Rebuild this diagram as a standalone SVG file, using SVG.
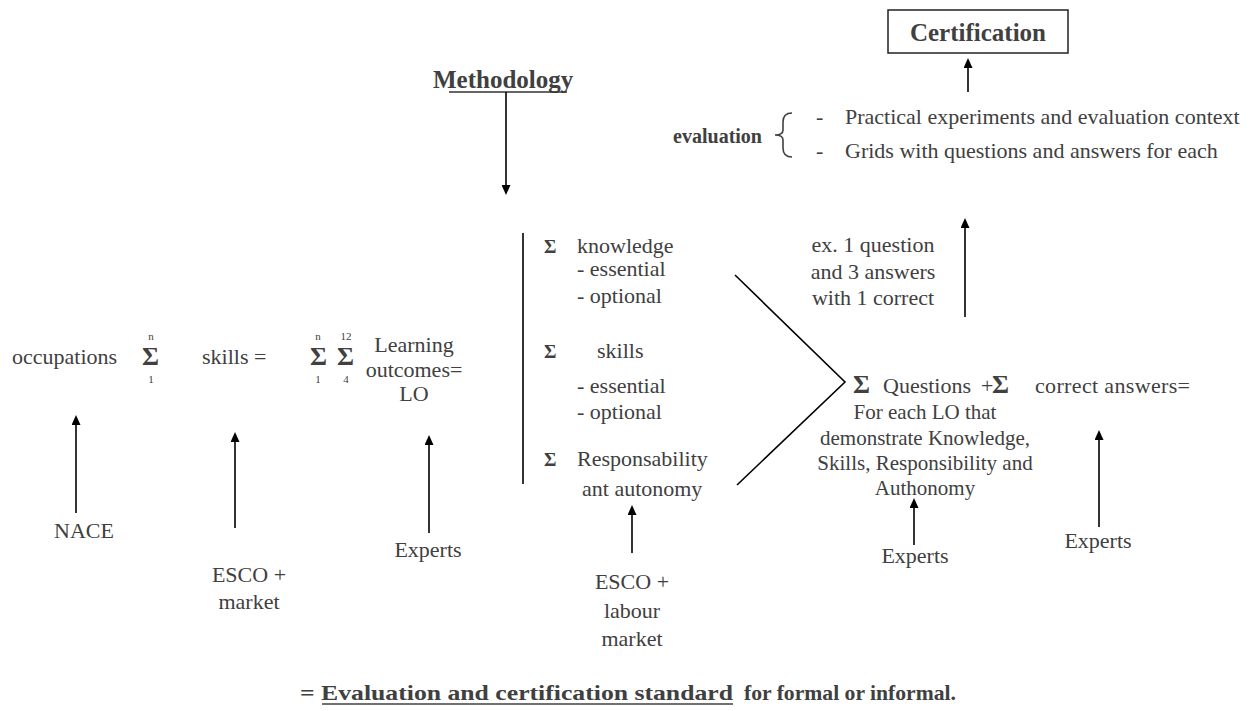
<svg xmlns="http://www.w3.org/2000/svg" width="1260" height="711" viewBox="0 0 1260 711">
<style>
text{font-family:"Liberation Serif","Times New Roman",serif;fill:#404040;font-size:22px}
.b{font-weight:bold}
.c{text-anchor:middle}
.e{text-anchor:end}
.s{font-size:11px}
.sig{font-weight:bold;font-size:26px}
.ksig{font-weight:bold;font-size:19px}
.q{font-size:21px}
.ln{stroke:#000;stroke-width:1.6;fill:none}
.ar{stroke:#000;stroke-width:1.6;fill:none;marker-end:url(#ah)}
</style>
<defs>
<marker id="ah" viewBox="0 0 10 9" refX="5" refY="4.5" markerWidth="10" markerHeight="9" markerUnits="userSpaceOnUse" orient="auto"><path d="M0,0 L10,4.5 L0,9 z" fill="#000"/></marker>
</defs>
<rect width="1260" height="711" fill="#fff"/>

<g id="certification">
<rect x="888" y="10" width="180" height="43" fill="none" stroke="#222" stroke-width="1.5"/>
<text x="978" y="41" class="b c" style="font-size:25px">Certification</text>
</g>

<g id="methodology">
<text x="433" y="88" class="b" style="font-size:25px">Methodology</text>
<line x1="449" y1="92" x2="567" y2="92" stroke="#333" stroke-width="1.5"/>
</g>

<g id="evaluation">
<text x="762" y="143" class="b e" style="font-size:20px">evaluation</text>
<path d="M792,113 Q783,113 783,122 L783,130 Q783,135 775,135 Q783,135 783,140 L783,148 Q783,157 792,157" fill="none" stroke="#404040" stroke-width="1.6"/>
<text x="816" y="124">-</text>
<text x="845" y="124">Practical experiments and evaluation context</text>
<text x="816" y="158">-</text>
<text x="845" y="158">Grids with questions and answers for each</text>
</g>

<g id="occupations">
<text x="12" y="364">occupations</text>
<text x="142" y="365" class="sig">Σ</text>
<text x="151" y="340" class="s c">n</text>
<text x="151" y="383" class="s c">1</text>
</g>

<g id="skills">
<text x="202" y="364">skills =</text>
<text x="310" y="365" class="sig">Σ</text>
<text x="337" y="365" class="sig">Σ</text>
<text x="318" y="340" class="s c">n</text>
<text x="346" y="340" class="s c">12</text>
<text x="318" y="383" class="s c">1</text>
<text x="346" y="383" class="s c">4</text>
</g>

<g id="learning-outcomes">
<text x="414" y="352" class="c">Learning</text>
<text x="414" y="377" class="c">outcomes=</text>
<text x="414" y="401" class="c">LO</text>
</g>

<g id="components">
<text x="544" y="253" class="ksig">Σ</text>
<text x="577" y="253">knowledge</text>
<text x="577" y="276">- essential</text>
<text x="577" y="303">- optional</text>
<text x="544" y="358" class="ksig">Σ</text>
<text x="597" y="358">skills</text>
<text x="577" y="393">- essential</text>
<text x="577" y="419">- optional</text>
<text x="544" y="466" class="ksig">Σ</text>
<text x="577" y="466">Responsability</text>
<text x="582" y="496">ant autonomy</text>
</g>

<g id="questions">
<text x="853" y="393" class="sig">Σ</text>
<text x="883" y="393">Questions</text>
<text x="981" y="393">+</text>
<text x="992" y="393" class="sig">Σ</text>
<text x="1035" y="393" textLength="155">correct answers=</text>
<text x="925" y="419" class="c q">For each LO that</text>
<text x="925" y="445" class="c q">demonstrate Knowledge,</text>
<text x="925" y="470" class="c q">Skills, Responsibility and</text>
<text x="925" y="495" class="c q">Authonomy</text>
</g>

<g id="example">
<text x="873" y="252" class="c">ex. 1 question</text>
<text x="873" y="279" class="c">and 3 answers</text>
<text x="873" y="305" class="c">with 1 correct</text>
</g>

<g id="nace"><text x="84" y="538" class="c">NACE</text></g>
<g id="esco-market"><text x="249" y="582" class="c">ESCO +</text><text x="249" y="609" class="c">market</text></g>
<g id="experts-lo"><text x="428" y="557" class="c">Experts</text></g>
<g id="esco-labour"><text x="632" y="589" class="c">ESCO +</text><text x="632" y="618" class="c">labour</text><text x="632" y="646" class="c">market</text></g>
<g id="experts-q"><text x="915" y="563" class="c">Experts</text></g>
<g id="experts-a"><text x="1098" y="548" class="c">Experts</text></g>

<g id="footer">
<text x="300" y="700" class="b" textLength="433" lengthAdjust="spacingAndGlyphs">= Evaluation and certification standard</text>
<text x="744" y="700" class="b" textLength="212" lengthAdjust="spacingAndGlyphs">for formal or informal.</text>
<line x1="322" y1="704" x2="733" y2="704" stroke="#404040" stroke-width="1.5"/>
</g>

<g id="connectors">
<line class="ar" x1="968" y1="92" x2="968" y2="63"/>
<line class="ar" x1="506" y1="92" x2="506" y2="190"/>
<line class="ar" x1="965" y1="317" x2="965" y2="223"/>
<line class="ar" x1="76" y1="513" x2="76" y2="420"/>
<line class="ar" x1="235" y1="528" x2="235" y2="437"/>
<line class="ar" x1="429" y1="533" x2="429" y2="440"/>
<line class="ar" x1="632" y1="553" x2="632" y2="510"/>
<line class="ar" x1="914" y1="545" x2="914" y2="503"/>
<line class="ar" x1="1099" y1="527" x2="1099" y2="435"/>
<line class="ln" x1="523" y1="233" x2="523" y2="484"/>
<polyline class="ln" points="735,275 845,382 737,485"/>
</g>
</svg>
